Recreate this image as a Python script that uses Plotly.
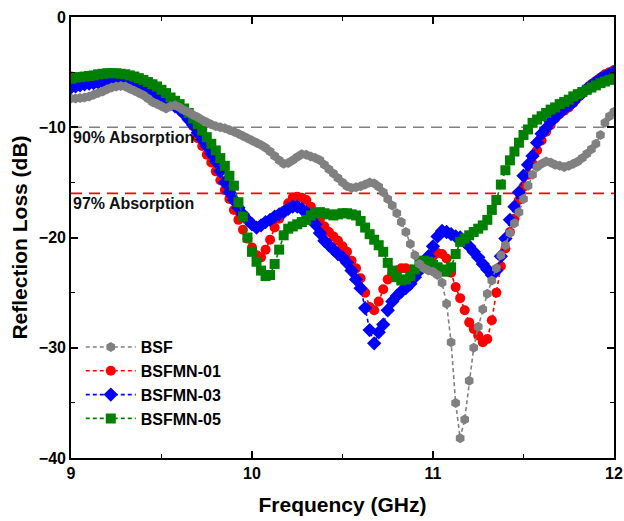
import numpy as np
import plotly.graph_objects as go

# Frequency grid (GHz), 0.025 GHz step
freq = [round(9 + i * 0.025, 3) for i in range(121)]

bsf = [-7.4, -7.4, -7.35, -7.3, -7.2, -7.05, -6.9, -6.75, -6.55, -6.4,
       -6.3, -6.25, -6.3, -6.5, -6.7, -6.9, -7.1, -7.4, -7.7, -7.9,
       -8.1, -8.3, -8.1, -8.0, -8.2, -8.45, -8.65, -8.9, -9.1, -9.35,
       -9.55, -9.75, -9.9, -10.0, -10.1, -10.25, -10.4, -10.6, -10.8, -11.0,
       -11.2, -11.4, -11.6, -11.85, -12.2, -12.6, -13.0, -13.3, -13.25, -13.0,
       -12.7, -12.45, -12.5, -12.65, -12.8, -13.0, -13.4, -13.8, -14.2, -14.6,
       -15.0, -15.35, -15.5, -15.45, -15.35, -15.2, -15.0, -15.1, -15.4, -15.9,
       -16.5, -17.1, -17.8, -18.6, -19.5, -20.6, -21.6, -22.4, -22.8, -23.0,
       -23.1, -23.4, -24.1, -26.0, -29.5, -35.0, -38.2, -36.5, -33.0, -30.0,
       -28.1, -26.5, -25.1, -23.9, -22.8, -21.6, -20.7, -19.6, -18.7, -17.7,
       -16.5, -15.3, -14.3, -13.6, -13.3, -13.1, -13.2, -13.4, -13.5, -13.6,
       -13.5, -13.3, -13.1, -12.8, -12.4, -12.0, -11.5, -10.7, -9.6, -9.0,
       -8.6]

bsfmn01 = [-5.4, -5.5, -5.6, -5.65, -5.7, -5.7, -5.65, -5.6, -5.55, -5.5,
           -5.5, -5.55, -5.6, -5.7, -5.8, -5.95, -6.1, -6.3, -6.5, -6.7,
           -6.9, -7.2, -7.5, -7.85, -8.2, -8.6, -9.1, -9.9, -11.0, -11.7,
           -12.5, -13.2, -14.0, -14.8, -15.7, -16.5, -17.5, -18.4, -19.3, -20.1,
           -20.9, -21.6, -21.8, -21.1, -20.2, -19.1, -18.3, -17.6, -16.9, -16.4,
           -16.3, -16.4, -16.6, -17.2, -17.8, -18.4, -19.0, -19.5, -19.9, -20.3,
           -20.8, -21.3, -22.1, -22.8, -23.7, -25.0, -26.3, -26.6, -25.8, -24.7,
           -23.8, -23.3, -23.0, -22.8, -22.8, -22.9, -23.1, -23.0, -22.7, -22.2,
           -21.7, -21.4, -21.5, -21.9, -23.2, -24.5, -25.5, -26.6, -27.7, -28.3,
           -28.9, -29.5, -29.2, -27.5, -25.0, -22.6, -21.0, -19.5, -18.3, -16.6,
           -15.4, -14.3, -13.3, -12.1, -11.2, -10.4, -9.8, -9.2, -8.8, -8.5,
           -8.2, -7.8, -7.3, -6.9, -6.5, -6.1, -5.8, -5.5, -5.2, -5.0,
           -4.8]

bsfmn03 = [-6.4, -6.3, -6.2, -6.1, -6.05, -6.0, -5.95, -5.9, -5.9, -5.9,
           -5.9, -5.95, -6.0, -6.1, -6.2, -6.3, -6.4, -6.6, -6.8, -7.0,
           -7.3, -7.6, -7.9, -8.1, -8.4, -8.8, -9.3, -9.8, -10.5, -11.1,
           -11.7, -12.4, -13.1, -14.0, -15.0, -15.9, -16.6, -17.3, -17.9, -18.4,
           -18.8, -19.1, -18.9, -18.6, -18.4, -18.1, -17.9, -17.7, -17.4, -17.2,
           -17.2, -17.4, -17.7, -18.2, -18.8, -19.6, -20.3, -20.7, -21.1, -21.5,
           -21.8, -22.3, -23.0, -23.8, -24.6, -26.4, -28.4, -29.6, -28.6, -27.9,
           -26.6, -25.8, -25.3, -24.9, -24.6, -24.2, -23.6, -23.0, -22.4, -21.7,
           -20.8, -19.9, -19.4, -19.5, -19.7, -19.9, -20.0, -20.4, -20.8, -21.3,
           -21.8, -22.4, -22.9, -23.4, -23.0, -21.7, -20.1, -18.4, -17.2, -15.9,
           -14.4, -13.4, -12.6, -11.4, -10.6, -10.1, -9.5, -9.1, -8.7, -8.3,
           -8.0, -7.7, -7.2, -6.9, -6.5, -6.2, -5.9, -5.6, -5.4, -5.2,
           -5.0]

bsfmn05 = [-5.6, -5.5, -5.45, -5.4, -5.35, -5.3, -5.2, -5.15, -5.1, -5.1,
           -5.1, -5.15, -5.2, -5.3, -5.4, -5.55, -5.7, -5.9, -6.1, -6.3,
           -6.6, -6.9, -7.3, -7.6, -7.9, -8.3, -8.7, -9.2, -9.7, -10.3,
           -10.9, -11.5, -12.1, -12.8, -13.5, -14.4, -15.3, -16.8, -18.1, -20.0,
           -21.3, -22.2, -23.0, -23.5, -23.4, -22.4, -21.1, -19.8, -19.2, -19.0,
           -18.8, -18.6, -18.4, -18.0, -17.8, -17.7, -17.8, -17.9, -18.0, -17.9,
           -17.8, -17.8, -17.9, -18.0, -18.5, -19.1, -19.7, -20.2, -20.7, -21.3,
           -22.3, -23.0, -23.6, -23.9, -23.8, -23.5, -22.9, -22.2, -22.1, -22.2,
           -22.5, -22.7, -22.9, -23.1, -22.7, -21.5, -20.4, -20.1, -19.8, -19.5,
           -19.2, -18.9, -18.4, -17.5, -16.6, -15.2, -13.9, -13.0, -12.2, -11.4,
           -10.7, -10.2, -9.6, -9.3, -9.0, -8.7, -8.4, -8.2, -7.9, -7.7,
           -7.5, -7.2, -7.0, -6.8, -6.6, -6.4, -6.2, -6.0, -5.85, -5.7,
           -5.6]

names = ["BSF", "BSFMN-01", "BSFMN-03", "BSFMN-05"]
colors = ["#808080", "#FF0000", "#0000FF", "#008000"]
symbols = ["hexagon", "circle", "diamond", "square"]
series = [bsf, bsfmn01, bsfmn03, bsfmn05]

threshold_values = [-10, -16]
threshold_labels = ["90% Absorption", "97% Absorption"]
threshold_colors = ["#808080", "#FF0000"]
x_range = [9, 12]
y_range = [-40, 0]

FONT = "Liberation Sans, Arial, sans-serif"

fig = go.Figure()

for val, col in zip(threshold_values, threshold_colors):
    fig.add_trace(go.Scatter(x=x_range, y=[val, val], mode="lines",
                             line=dict(color=col, width=1.6, dash="11px,7px"),
                             showlegend=False, hoverinfo="skip"))

# draw order: red, blue, green, gray (gray on top); legend order BSF first
draw_order = [1, 2, 3, 0]
for k in draw_order:
    fig.add_trace(go.Scatter(
        x=freq, y=series[k], mode="lines+markers", name="<b>%s</b>" % names[k],
        line=dict(color=colors[k], width=1.6, dash="4px,3px"),
        marker=dict(symbol=symbols[k], size=10 if k != 2 else 11, color=colors[k],
                    line=dict(width=0)),
        legendrank=k + 1,
    ))

for val, lab in zip(threshold_values, threshold_labels):
    fig.add_annotation(x=9.0, y=val, xref="x", yref="y", text="<b>%s</b>" % lab,
                       showarrow=False, xanchor="left", yanchor="top",
                       xshift=0, yshift=0,
                       font=dict(family=FONT, size=16, color="#111111"))

axis_common = dict(
    showline=True, linecolor="black", linewidth=1.6, mirror="ticks",
    ticks="inside", ticklen=7, tickwidth=1.6, tickcolor="black",
    showgrid=False, zeroline=False, automargin=False,
    tickfont=dict(family=FONT, size=16, color="black"),
)

fig.update_xaxes(range=x_range, dtick=1, tick0=9,
                 minor=dict(dtick=0.5, ticks="inside", ticklen=4, tickwidth=1.4,
                            tickcolor="black", showgrid=False),
                 title=dict(text="<b>Frequency (GHz)</b>",
                            font=dict(family=FONT, size=21, color="black"),
                            standoff=16),
                 tickprefix="<b>", ticksuffix="</b>",
                 **axis_common)
fig.update_yaxes(range=y_range, dtick=10, tick0=0,
                 minor=dict(dtick=5, ticks="inside", ticklen=4, tickwidth=1.4,
                            tickcolor="black", showgrid=False),
                 title=dict(text="<b>Reflection Loss (dB)</b>",
                            font=dict(family=FONT, size=21, color="black"),
                            standoff=6),
                 tickprefix="<b>", ticksuffix="</b>",
                 **axis_common)

fig.update_layout(
    width=624, height=521,
    margin=dict(l=71, r=10, t=17, b=63),
    plot_bgcolor="white", paper_bgcolor="white",
    showlegend=True,
    legend=dict(x=0.018, y=0.29, xanchor="left", yanchor="top",
                bgcolor="rgba(0,0,0,0)", borderwidth=0,
                font=dict(family=FONT, size=16, color="black"),
                itemwidth=50, tracegroupgap=0),
    font=dict(family=FONT),
)

fig.write_html("out.html")
